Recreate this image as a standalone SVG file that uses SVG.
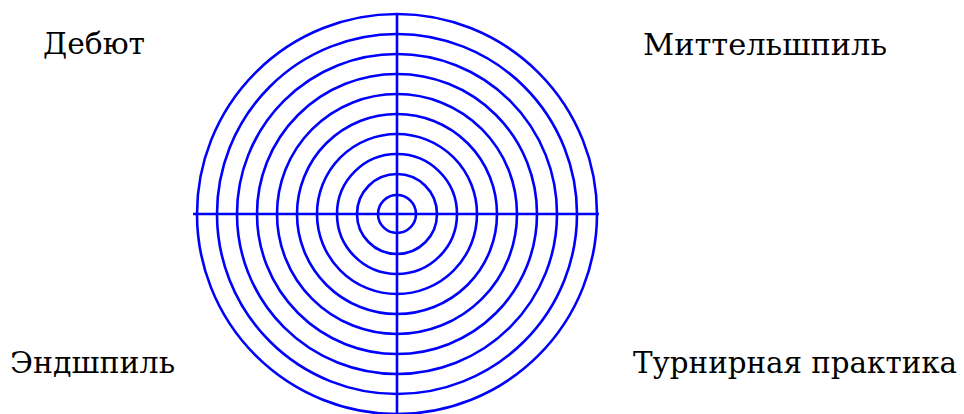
<svg xmlns="http://www.w3.org/2000/svg" width="964" height="414" viewBox="0 0 964 414">
<style>
.ring{fill:none;stroke:#0000ff;stroke-width:2.6}
.axis{stroke:#0000ff;stroke-width:2.6}
.lbl{font-family:"DejaVu Serif","Liberation Serif",serif;font-size:30px;fill:#000}
</style>
<rect width="964" height="414" fill="#fff"/>
<g id="target">
<circle class="ring" cx="397" cy="214" r="200"/>
<circle class="ring" cx="397" cy="214" r="180"/>
<circle class="ring" cx="397" cy="214" r="160"/>
<circle class="ring" cx="397" cy="214" r="140"/>
<circle class="ring" cx="397" cy="214" r="120"/>
<circle class="ring" cx="397" cy="214" r="100"/>
<circle class="ring" cx="397" cy="214" r="80"/>
<circle class="ring" cx="397" cy="214" r="60"/>
<circle class="ring" cx="397" cy="214" r="40"/>
<circle class="ring" cx="397" cy="214" r="19"/>
</g>
<g id="axes">
<line class="axis" x1="193" y1="214" x2="599" y2="214"/>
<line class="axis" x1="397" y1="14" x2="397" y2="414"/>
</g>
<g id="debut"><text class="lbl" x="43" y="54" textLength="102" lengthAdjust="spacingAndGlyphs">Дебют</text></g>
<g id="mittelspiel"><text class="lbl" x="643" y="55" textLength="244" lengthAdjust="spacingAndGlyphs">Миттельшпиль</text></g>
<g id="endspiel"><text class="lbl" x="10" y="373" textLength="165" lengthAdjust="spacingAndGlyphs">Эндшпиль</text></g>
<g id="practice"><text class="lbl" x="633" y="373" textLength="324" lengthAdjust="spacingAndGlyphs">Турнирная практика</text></g>
</svg>
